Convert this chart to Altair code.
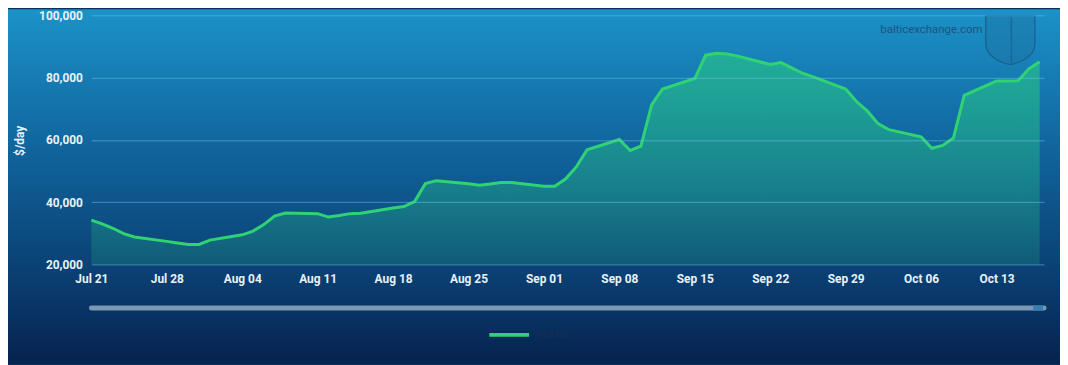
import altair as alt
import pandas as pd

# ---- data (weekday assessments, Jul 21 - Oct 17) ----
dates = [
    "2025-07-21", "2025-07-22", "2025-07-23", "2025-07-24", "2025-07-25",
    "2025-07-28", "2025-07-29", "2025-07-30", "2025-07-31", "2025-08-01",
    "2025-08-04", "2025-08-05", "2025-08-06", "2025-08-07", "2025-08-08",
    "2025-08-11", "2025-08-12", "2025-08-13", "2025-08-14", "2025-08-15",
    "2025-08-18", "2025-08-19", "2025-08-20", "2025-08-21", "2025-08-22",
    "2025-08-25", "2025-08-26", "2025-08-27", "2025-08-28", "2025-08-29",
    "2025-09-01", "2025-09-02", "2025-09-03", "2025-09-04", "2025-09-05",
    "2025-09-08", "2025-09-09", "2025-09-10", "2025-09-11", "2025-09-12",
    "2025-09-15", "2025-09-16", "2025-09-17", "2025-09-18", "2025-09-19",
    "2025-09-22", "2025-09-23", "2025-09-24", "2025-09-25", "2025-09-26",
    "2025-09-29", "2025-09-30", "2025-10-01", "2025-10-02", "2025-10-03",
    "2025-10-06", "2025-10-07", "2025-10-08", "2025-10-09", "2025-10-10",
    "2025-10-13", "2025-10-14", "2025-10-15", "2025-10-16", "2025-10-17",
]
vltce = [
    34200, 33000, 31600, 29900, 28800,
    27400, 26900, 26400, 26400, 27800,
    29500, 30700, 32800, 35500, 36500,
    36300, 35200, 35700, 36300, 36400,
    38100, 38600, 40200, 46000, 46900,
    45900, 45400, 45800, 46300, 46300,
    45100, 45100, 47400, 51300, 56800,
    60100, 56600, 58000, 71300, 76300,
    79700, 87200, 87800, 87600, 86900,
    84200, 84800, 83100, 81400, 80200,
    76300, 72300, 69300, 65200, 63300,
    61000, 57300, 58200, 60600, 74300,
    78900, 78900, 79000, 82800, 85100,
]
series_name = "VLTCE"
y_ticks = [20000, 40000, 60000, 80000, 100000]
x_tick_days = [(7, 21), (7, 28), (8, 4), (8, 11), (8, 18), (8, 25), (9, 1),
               (9, 8), (9, 15), (9, 22), (9, 29), (10, 6), (10, 13)]

df = pd.DataFrame({
    "date": [d + "T00:00:00" for d in dates],
    "value": vltce,
    "series": [series_name] * len(dates),
})

W, H = 960, 251
PAD_L, PAD_T, PAD_R, PAD_B = 84, 6, 16, 100
FONT = "Roboto"
LABEL_COLOR = "#e8f1f7"
LINE_COLOR = "#2fd373"

x_scale = alt.Scale(domain=[alt.DateTime(year=2025, month=7, date=21),
                            alt.DateTime(year=2025, month=10, date=17, hours=10)])
y_scale = alt.Scale(domain=[20000, 100000], nice=False, zero=False)

x_axis = alt.Axis(
    values=[alt.DateTime(year=2025, month=m, date=d) for m, d in x_tick_days],
    format="%b %d", title=None, grid=False, ticks=False, domain=False,
    labelFont=FONT, labelFontWeight="bold", labelFontSize=12, labelColor=LABEL_COLOR,
    labelPadding=9, labelBaseline="top", zindex=1, labelFlush=False,
)
y_axis = alt.Axis(
    values=y_ticks, format=",.0f", title="$/day", grid=True, ticks=False, domain=False,
    gridColor="#6fc0e2", gridOpacity=0.55, gridWidth=1,
    labelFont=FONT, labelFontWeight="bold", labelFontSize=12, labelColor=LABEL_COLOR,
    labelPadding=9, titleFont=FONT, titleFontWeight="bold", titleFontSize=12,
    titleColor=LABEL_COLOR, titleX=-72, titleY=126, titleAngle=270,
    titleAlign="center", titleBaseline="middle", zindex=1,
)

base = alt.Chart(df)

bg = alt.Chart(alt.Data(values=[{"k": 1}])).mark_rect(
    fill={"gradient": "linear", "x1": 0, "y1": 0, "x2": 0, "y2": 1,
          "stops": [{"offset": 0, "color": "#1b92c8"},
                    {"offset": 0.4, "color": "#10649c"},
                    {"offset": 0.75, "color": "#0a3f72"},
                    {"offset": 1, "color": "#05234e"}]}
).encode(x=alt.value(-PAD_L), x2=alt.value(W + PAD_R), y=alt.value(-PAD_T), y2=alt.value(H + PAD_B))

area = base.mark_area(
    fill={"gradient": "linear", "x1": 0, "y1": 0, "x2": 0, "y2": 1,
          "stops": [{"offset": 0, "color": "rgba(40,200,130,0.62)"},
                    {"offset": 1, "color": "rgba(40,200,130,0.18)"}]}
).encode(
    x=alt.X("date:T", scale=x_scale, axis=x_axis),
    y=alt.Y("value:Q", scale=y_scale, axis=y_axis),
    y2=alt.datum(20000),
)

line = base.mark_line(strokeWidth=3).encode(
    x=alt.X("date:T", scale=x_scale),
    y=alt.Y("value:Q", scale=y_scale),
    color=alt.Color("series:N", scale=alt.Scale(range=[LINE_COLOR]),
                    legend=alt.Legend(orient="none", legendX=399, legendY=300, title=None,
                                      symbolType="stroke", symbolSize=1600, symbolStrokeWidth=4,
                                      symbolStrokeColor="#3ccf8a",
                                      labelColor="#1a2f50", labelFont="Liberation Sans Narrow",
                                      labelFontSize=11, labelOffset=4, padding=0)),
)

watermark = alt.Chart(alt.Data(values=[{"t": "balticexchange.com"}])).mark_text(
    align="left", baseline="middle", font=FONT, fontSize=11.5, color="#19567f"
).encode(x=alt.value(795), y=alt.value(15), text="t:N")

shield = alt.Chart(alt.Data(values=[{"k": 1}])).mark_point(
    shape="M-1,-1 L1,-1 L1,0.15 C1,0.65 0.45,0.9 0,1 C-0.45,0.9 -1,0.65 -1,0.15 Z",
    filled=True, fill="#1f6c9c", fillOpacity=0.35, stroke="#1a5f8d", strokeWidth=1.2, opacity=1,
).encode(x=alt.value(926), y=alt.value(25), size=alt.value(2450))

shield_bar = alt.Chart(alt.Data(values=[{"k": 1}])).mark_rule(
    color="#1a5f8d", strokeWidth=1.5, opacity=0.7
).encode(x=alt.value(927), y=alt.value(2), y2=alt.value(48))

scroll = alt.Chart(alt.Data(values=[{"k": 1}])).mark_rule(
    color="#7b98b5", strokeWidth=5, strokeCap="round"
).encode(x=alt.value(0), x2=alt.value(W), y=alt.value(295))

scroll_end = alt.Chart(alt.Data(values=[{"k": 1}])).mark_rule(
    color="#3a7fb0", strokeWidth=5
).encode(x=alt.value(W - 11), x2=alt.value(W - 1), y=alt.value(295))

chart = alt.layer(bg, area, line, watermark, shield, shield_bar, scroll, scroll_end).properties(
    width=W, height=H,
    autosize=alt.AutoSizeParams(type="none"),
    padding={"left": PAD_L, "top": PAD_T, "right": PAD_R, "bottom": PAD_B},
    background="#0a2f5e",
).configure_view(strokeWidth=0)

chart.save("out.html", embed_options={"renderer": "svg", "actions": False})
